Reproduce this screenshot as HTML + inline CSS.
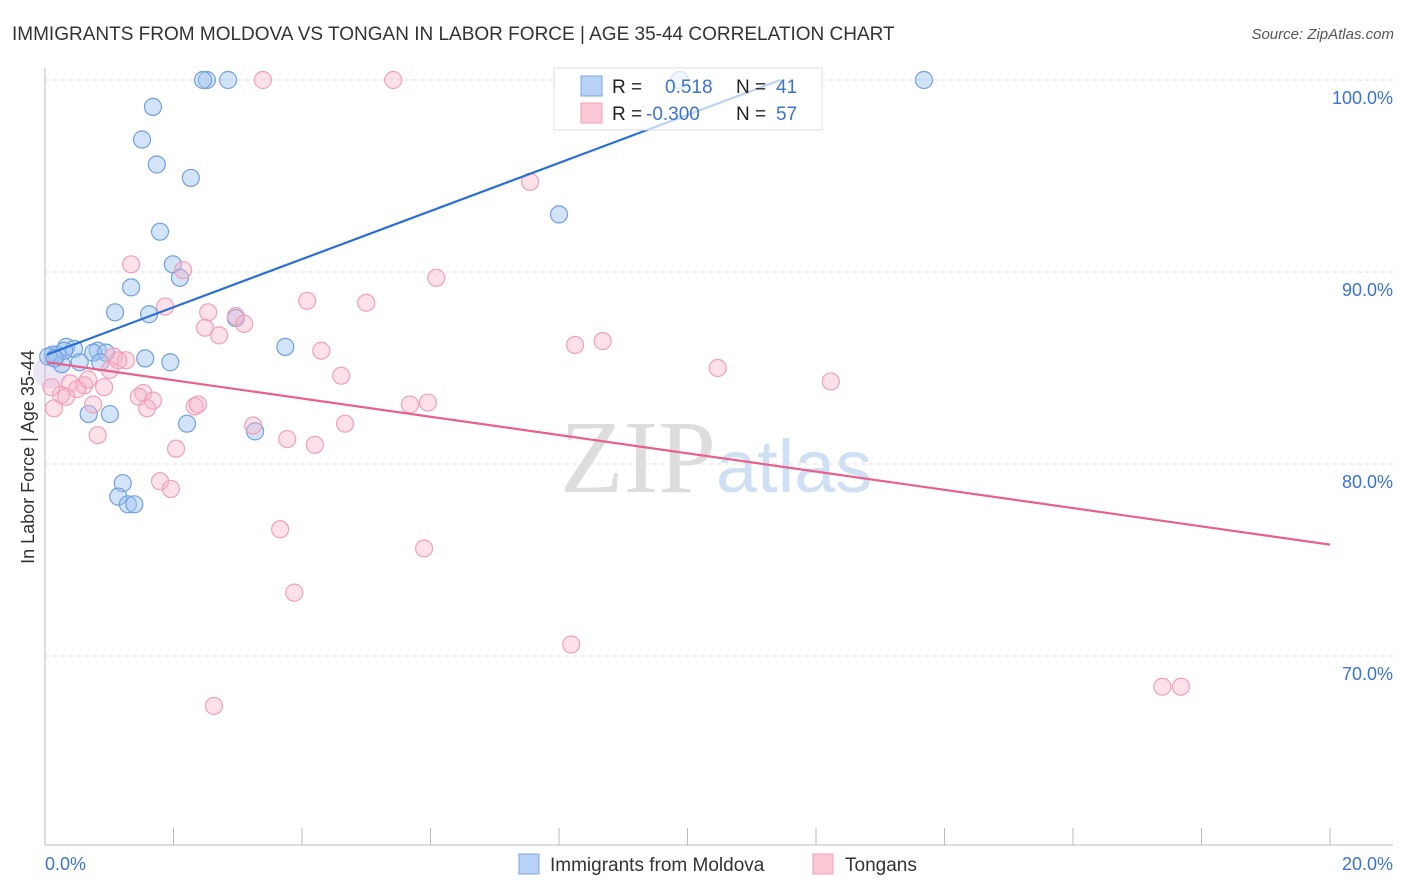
<!DOCTYPE html>
<html><head><meta charset="utf-8"><style>
body{margin:0;background:#fff;font-family:"Liberation Sans",sans-serif;}
svg{display:block}
</style></head><body>
<svg id="chart" width="1406" height="892">
<text x="12" y="40" font-size="19" fill="#333">IMMIGRANTS FROM MOLDOVA VS TONGAN IN LABOR FORCE | AGE 35-44 CORRELATION CHART</text>
<text x="1394" y="39" font-size="15" fill="#555" font-style="italic" text-anchor="end">Source: ZipAtlas.com</text>
<text x="716" y="492" font-size="104" fill="#ddd" text-anchor="end" font-family="Liberation Serif,serif">ZIP</text>
<text x="716" y="492" font-size="74" fill="#cfe0f5">atlas</text>
<g id="grid"></g>
<g id="axes"></g>
<g id="pts"></g>
<g id="lines"></g>
<text transform="translate(34,457) rotate(-90)" font-size="18" fill="#333" text-anchor="middle">In Labor Force | Age 35-44</text>
<text x="45" y="870" font-size="18" fill="#3b73d0">0.0%</text>
<text x="1393" y="870" font-size="18" fill="#3b73d0" text-anchor="end">20.0%</text>
<g>
<rect x="554" y="68" width="268" height="62" fill="#fff" fill-opacity="0.7" stroke="#ddd"/>
<rect x="581" y="76" width="21" height="20" fill="#b8d2f5" stroke="#7aa6e2"/>
<rect x="581" y="103" width="21" height="20" fill="#fbc8d6" stroke="#f0a0b8"/>
<text x="612" y="93" font-size="19" fill="#222">R = </text><text x="665" y="93" font-size="19" fill="#3b73d0">0.518</text>
<text x="736" y="93" font-size="19" fill="#222">N = </text><text x="776" y="93" font-size="19" fill="#3b73d0">41</text>
<text x="612" y="120" font-size="19" fill="#222">R = </text><text x="646" y="120" font-size="19" fill="#3b73d0">-0.300</text>
<text x="736" y="120" font-size="19" fill="#222">N = </text><text x="776" y="120" font-size="19" fill="#3b73d0">57</text>
</g>
<g>
<rect x="519" y="854" width="20" height="20" fill="#b8d2f5" stroke="#7aa6e2"/>
<text x="550" y="871" font-size="19" fill="#333">Immigrants from Moldova</text>
<rect x="813" y="854" width="20" height="20" fill="#fbc8d6" stroke="#f0a0b8"/>
<text x="845" y="871" font-size="19" fill="#333">Tongans</text>
</g>
</svg>
<script>
const yTicks=[100,90,80,70];
const yTickLabels=["100.0%","90.0%","80.0%","70.0%"];
const xTicks=[0,2,4,6,8,10,12,14,16,18,20];
const blueX=[2.52,2.46,2.85,9.88,13.68,1.68,1.51,1.74,2.27,8.0,1.79,1.99,2.10,1.34,1.09,1.62,2.97,3.74,0.33,0.45,0.19,0.12,0.05,0.26,0.54,0.82,0.75,0.95,0.86,1.56,1.95,0.68,1.01,2.21,3.27,1.21,1.14,1.29,1.39,0.3,0.15];
const blueY=[100,100,100,100,100,98.6,96.9,95.6,94.9,93.0,92.1,90.4,89.7,89.2,87.9,87.8,87.6,86.1,86.1,86.0,85.7,85.7,85.6,85.2,85.3,85.9,85.8,85.8,85.3,85.5,85.3,82.6,82.6,82.1,81.7,79.0,78.3,77.9,77.9,85.9,85.5];
const pinkX=[3.39,5.42,7.55,1.34,2.15,6.09,4.08,5.0,1.87,2.54,2.97,2.49,3.10,2.71,8.25,8.68,4.30,10.47,12.23,4.61,1.07,1.26,1.14,1.01,0.39,0.61,0.92,0.25,0.33,0.5,1.53,1.46,1.68,1.59,2.33,2.38,5.68,5.96,0.14,0.75,0.82,4.67,3.24,3.77,4.20,2.04,1.79,1.96,3.66,5.90,3.88,8.19,2.63,17.39,17.68,0.67,0.1];
const pinkY=[100,100,94.7,90.4,90.1,89.7,88.5,88.4,88.2,87.9,87.7,87.1,87.3,86.7,86.2,86.4,85.9,85.0,84.3,84.6,85.6,85.4,85.4,84.9,84.2,84.1,84.0,83.6,83.5,83.9,83.7,83.5,83.3,82.9,83.0,83.1,83.1,83.2,82.9,83.1,81.5,82.1,82.0,81.3,81.0,80.8,79.1,78.7,76.6,75.6,73.3,70.6,67.4,68.4,68.4,84.4,84.0];
const blueTrend=[0,85.7,11.45,100];
const pinkTrend=[0,85.3,20,75.8];
const X=v=>45+v*64.25, Y=v=>80+(100-v)*19.2;
const NS="http://www.w3.org/2000/svg";
function mk(tag,attrs,parent){const e=document.createElementNS(NS,tag);for(const k in attrs)e.setAttribute(k,attrs[k]);parent.appendChild(e);return e;}
const grid=document.getElementById('grid'),axes=document.getElementById('axes'),pts=document.getElementById('pts'),lines=document.getElementById('lines');
yTicks.forEach((t,i)=>{
 const l=mk('line',{x1:45,x2:1393,y1:Y(t),y2:Y(t),stroke:'#ddd','stroke-dasharray':'4,4'},grid);
 
 
 const tx=mk('text',{x:1393,y:Y(t)+24,'font-size':18,fill:'#3b73d0','text-anchor':'end'},grid);
 tx.textContent=yTickLabels[i];
 
 
});
const ya=mk('line',{x1:45,x2:45,y1:68,y2:845,stroke:'#bbb'},axes);


const xa=mk('line',{x1:45,x2:1393,y1:845,y2:845,stroke:'#bbb'},axes);


xTicks.forEach(t=>{
 const l=mk('line',{x1:X(t),x2:X(t),y1:828,y2:845,stroke:'#bbb'},axes);
 
 
});
const big=mk('circle',{cx:X(0.08),cy:Y(84.8),r:17,fill:'rgba(200,180,220,0.35)'},pts);


blueX.forEach((x,i)=>{
 const c=mk('circle',{cx:X(x),cy:Y(blueY[i]),r:8.5,fill:'rgba(160,196,240,0.45)',stroke:'#6fa0e0','stroke-width':1.2},pts);
 
 
});
pinkX.forEach((x,i)=>{
 const c=mk('circle',{cx:X(x),cy:Y(pinkY[i]),r:8.5,fill:'rgba(248,180,200,0.4)',stroke:'#f0a0b8','stroke-width':1.2},pts);
 
 
});
const bl=mk('line',{x1:X(blueTrend[0])+2,y1:Y(blueTrend[1]),x2:X(blueTrend[2]),y2:Y(blueTrend[3]),stroke:'#2a6fd6','stroke-width':2.2},lines);


const pl=mk('line',{x1:X(pinkTrend[0])+2,y1:Y(pinkTrend[1]),x2:X(pinkTrend[2]),y2:Y(pinkTrend[3]),stroke:'#e8608c','stroke-width':2.2},lines);


</script>
</body></html>
